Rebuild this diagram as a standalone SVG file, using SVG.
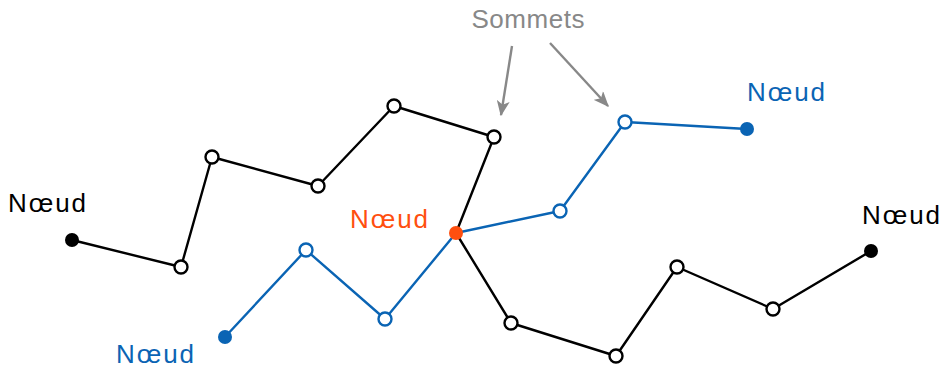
<svg xmlns="http://www.w3.org/2000/svg" width="942" height="370" viewBox="0 0 942 370">
<defs>
<style>
.lk{fill:none;stroke:#000;stroke-width:2.4;stroke-linejoin:round}
.lb{fill:none;stroke:#0a64b4;stroke-width:2.4;stroke-linejoin:round}
.vk{fill:#fff;stroke:#000;stroke-width:2.4}
.vb{fill:#fff;stroke:#0a64b4;stroke-width:2.4}
.arr{fill:none;stroke:#888;stroke-width:2.4}
text{font-family:"Liberation Sans",Arial,sans-serif;font-size:26px}
</style>
<marker id="ah2" viewBox="0 0 12 10" refX="11" refY="5" markerWidth="16" markerHeight="13" markerUnits="userSpaceOnUse" orient="auto">
<path d="M0,0 L12,5 L0,10 L3,5 Z" fill="#888"/>
</marker>
</defs>
<g id="connectors">
<polyline class="lk" points="72,240 181,267 212,157 318,186 394,106 494,137 456,233"/>
<polyline class="lk" points="456,233 511,323 616,356 677,267 773,309 871,251"/>
<polyline class="lb" points="225,337 306,250 385,319 456,233"/>
<polyline class="lb" points="456,233 560,211 625,122 747,129"/>
<line class="arr" x1="512" y1="46" x2="501" y2="115" marker-end="url(#ah2)"/>
<line class="arr" x1="550" y1="43" x2="608" y2="106" marker-end="url(#ah2)"/>
</g>
<g id="vertices">
<circle class="vk" cx="181" cy="267" r="6.5"/>
<circle class="vk" cx="212" cy="157" r="6.5"/>
<circle class="vk" cx="318" cy="186" r="6.5"/>
<circle class="vk" cx="394" cy="106" r="6.5"/>
<circle class="vk" cx="494" cy="137" r="6.5"/>
<circle class="vk" cx="511" cy="323" r="6.5"/>
<circle class="vk" cx="616" cy="356" r="6.5"/>
<circle class="vk" cx="677" cy="267" r="6.5"/>
<circle class="vk" cx="773" cy="309" r="6.5"/>
<circle class="vb" cx="306" cy="250" r="6.5"/>
<circle class="vb" cx="385" cy="319" r="6.5"/>
<circle class="vb" cx="560" cy="211" r="6.5"/>
<circle class="vb" cx="625" cy="122" r="6.5"/>
</g>
<g id="node-left">
<circle cx="72" cy="240" r="7" fill="#000"/>
<text x="8" y="212" fill="#000" textLength="78">Nœud</text>
</g>
<g id="node-center">
<circle cx="456" cy="233" r="7" fill="#ff4f0f"/>
<text x="350" y="228" fill="#ff4f0f" textLength="78">Nœud</text>
</g>
<g id="node-right">
<circle cx="871" cy="251" r="7" fill="#000"/>
<text x="862" y="224" fill="#000" textLength="78">Nœud</text>
</g>
<g id="node-blue-top">
<circle cx="747" cy="129" r="7" fill="#0a64b4"/>
<text x="747" y="101" fill="#0a64b4" textLength="78">Nœud</text>
</g>
<g id="node-blue-bottom">
<circle cx="225" cy="337" r="7" fill="#0a64b4"/>
<text x="116" y="363" fill="#0a64b4" textLength="78">Nœud</text>
</g>
<g id="label-sommets">
<text x="528" y="28" text-anchor="middle" fill="#888" textLength="113">Sommets</text>
</g>
</svg>
